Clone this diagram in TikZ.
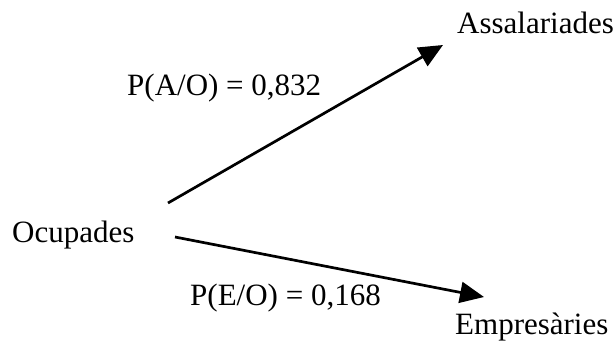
\documentclass[tikz,border=0pt]{standalone}
\usepackage{fontspec}
\setmainfont{Liberation Serif}
\usetikzlibrary{arrows.meta}
\begin{document}
\begin{tikzpicture}[x=1pt,y=-1pt,
  lbl/.style={anchor=base west,inner sep=0pt,font=\fontsize{31}{36}\selectfont},
  arr/.style={line width=2.7pt,-{Triangle[length=24pt,width=21pt]}}]
\useasboundingbox (0,0) rectangle (615,340);
\node[lbl] (ocup) at (12,242) {Ocupades};
\node[lbl] (assal) at (457,33) {Assalariades};
\node[lbl] (empr) at (455,334) {Empresàries};
\node[lbl] (pa) at (127,95) {P(A/O) = 0,832};
\node[lbl] (pe) at (190,305) {P(E/O) = 0,168};
\coordinate (s1) at (168,203);
\coordinate (t1) at (443,45);
\coordinate (s2) at (175,237);
\coordinate (t2) at (484,297);
\draw[arr] (s1) -- (t1);
\draw[arr] (s2) -- (t2);
\end{tikzpicture}
\end{document}
